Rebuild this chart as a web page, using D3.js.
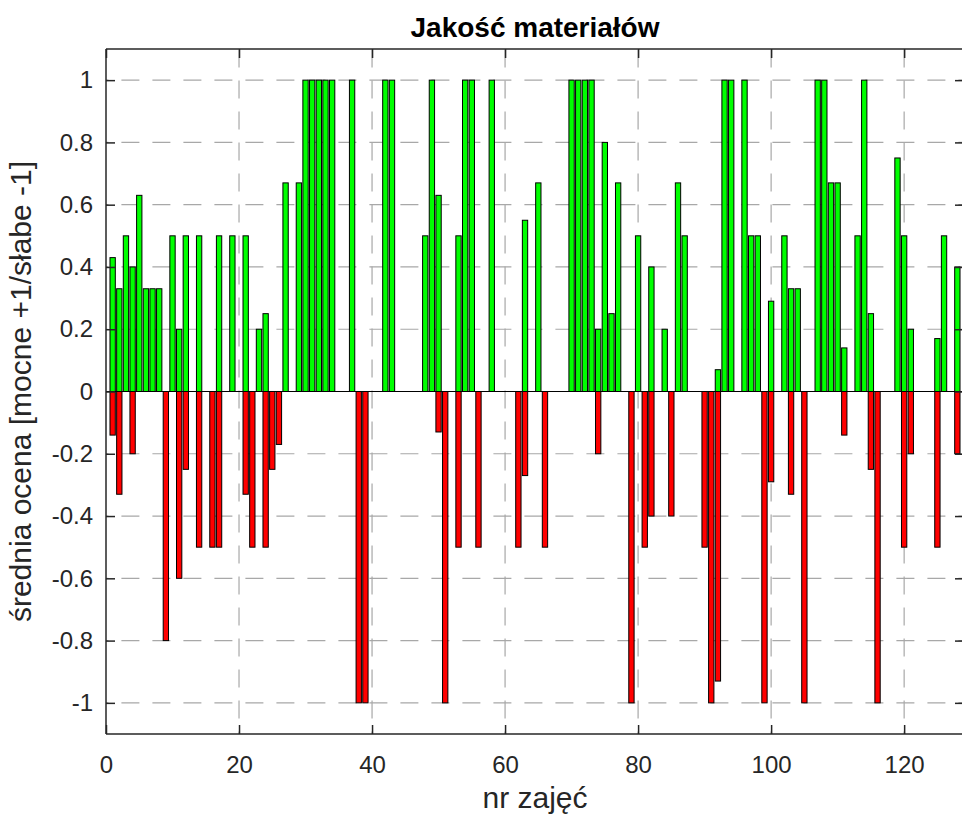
<!DOCTYPE html>
<html><head><meta charset="utf-8">
<script src="https://cdn.jsdelivr.net/npm/d3@7"></script>
<style>body{margin:0;background:#fff}svg{display:block}</style>
</head><body>
<svg id="c" width="962" height="814"></svg>
<script>
// --- data ---
const lessons = d3.range(1, 129); // nr zajęć 1..128
const positive = [
 0.43,0.33,0.5,0.4,0.63,0.33,0.33,0.33,0,0.5,
 0.2,0.5,0,0.5,0,0,0.5,0,0.5,0,
 0.5,0,0.2,0.25,0,0,0.67,0,0.67,1,
 1,1,1,1,0,0,1,0,0,0,
 0,1,1,0,0,0,0,0.5,1,0.63,
 0,0,0.5,1,1,0,0,1,0,0,
 0,0,0.55,0,0.67,0,0,0,0,1,
 1,1,1,0.2,0.8,0.25,0.67,0,0,0.5,
 0,0.4,0,0.2,0,0.67,0.5,0,0,0,
 0,0.07,1,1,0,1,0.5,0.5,0,0.29,
 0,0.5,0.33,0.33,0,0,1,1,0.67,0.67,
 0.14,0,0.5,1,0.25,0,0,0,0.75,0.5,
 0.2,0,0,0,0.17,0.5,0,0.4];
const negative = [
 -0.14,-0.33,0,-0.2,0,0,0,0,-0.8,0,
 -0.6,-0.25,0,-0.5,0,-0.5,-0.5,0,0,0,
 -0.33,-0.5,0,-0.5,-0.25,-0.17,0,0,0,0,
 0,0,0,0,0,0,0,-1,-1,0,
 0,0,0,0,0,0,0,0,0,-0.13,
 -1,0,-0.5,0,0,-0.5,0,0,0,0,
 0,-0.5,-0.27,0,0,-0.5,0,0,0,0,
 0,0,0,-0.2,0,0,0,0,-1,0,
 -0.5,-0.4,0,0,-0.4,0,0,0,0,-0.5,
 -1,-0.93,0,0,0,0,0,0,-1,-0.29,
 0,0,-0.33,0,-1,0,0,0,0,0,
 -0.14,0,0,0,-0.25,-1,0,0,0,-0.5,
 -0.2,0,0,0,-0.5,0,0,-0.2];
const xTicks = [0,20,40,60,80,100,120];
const yTicks = [-1,-0.8,-0.6,-0.4,-0.2,0,0.2,0.4,0.6,0.8,1];
const yTickLabels = ["-1","-0.8","-0.6","-0.4","-0.2","0","0.2","0.4","0.6","0.8","1"];
const titleText = "Jakość materiałów";
const xLabel = "nr zajęć";
const yLabel = "średnia ocena [mocne +1/słabe -1]";

// --- layout ---
const L = 106, T = 49, R = 964, B = 734;
const svg = d3.select("#c");
const x = d3.scaleLinear().domain([0, 129]).range([L, R]);
const y = d3.scaleLinear().domain([-1.1, 1.1]).range([B, T]);
const font = "'Liberation Sans', Arial, Helvetica, sans-serif";
const axisCol = "#262626";

// grid
const grid = svg.append("g").attr("stroke", "#a8a8a8").attr("stroke-width", 1.2)
  .attr("stroke-dasharray", "18,13").attr("fill", "none");
yTicks.forEach(t => grid.append("line")
  .attr("x1", L).attr("x2", R).attr("y1", y(t)).attr("y2", y(t))
  .attr("stroke-dashoffset", 15.6));
xTicks.filter(t => t > 0).forEach(t => grid.append("line")
  .attr("x1", x(t)).attr("x2", x(t)).attr("y1", B).attr("y2", T)
  .attr("stroke-dashoffset", 15.6));

// bars
const bw = 0.8;
const data = lessons.map((d, i) => ({ n: d, p: positive[i], m: negative[i] }));
svg.append("g").selectAll("rect").data(data.filter(d => d.p !== 0)).join("rect")
  .attr("x", d => x(d.n - bw / 2)).attr("width", x(bw) - x(0))
  .attr("y", d => y(d.p)).attr("height", d => y(0) - y(d.p))
  .attr("fill", "#00ff00").attr("stroke", "#000").attr("stroke-width", 1);
svg.append("g").selectAll("rect").data(data.filter(d => d.m !== 0)).join("rect")
  .attr("x", d => x(d.n - bw / 2)).attr("width", x(bw) - x(0))
  .attr("y", y(0)).attr("height", d => y(d.m) - y(0))
  .attr("fill", "#ff0000").attr("stroke", "#000").attr("stroke-width", 1);

// baseline
svg.append("line").attr("x1", L).attr("x2", R).attr("y1", y(0)).attr("y2", y(0))
  .attr("stroke", "#000").attr("stroke-width", 1);

// axes box
const ax = svg.append("g");
const xAxisB = d3.axisBottom(x).tickValues(xTicks).tickSize(-9).tickPadding(22).tickFormat(d3.format("d"));
const xAxisT = d3.axisTop(x).tickValues(xTicks).tickSize(-9).tickFormat("");
const yAxisL = d3.axisLeft(y).tickValues(yTicks).tickSize(-9).tickPadding(13)
  .tickFormat((d, i) => yTickLabels[i]);
const yAxisR = d3.axisRight(y).tickValues(yTicks).tickSize(-9).tickFormat("");
function style(g) {
  g.selectAll("path").attr("stroke", axisCol).attr("stroke-width", 1.5);
  g.selectAll("line").attr("stroke", axisCol).attr("stroke-width", 1.5);
  g.selectAll("text").attr("fill", axisCol).style("font-family", font).style("font-size", "24px");
}
ax.append("g").attr("transform", `translate(0,${B})`).call(xAxisB).call(style)
  .call(g => g.select(".domain").attr("d", `M${L},0H${R}`));
ax.append("g").attr("transform", `translate(0,${T})`).call(xAxisT).call(style)
  .call(g => g.select(".domain").attr("d", `M${L},0H${R}`));
ax.append("g").attr("transform", `translate(${L},0)`).call(yAxisL).call(style)
  .call(g => g.select(".domain").attr("d", `M0,${T}V${B}`));
ax.append("g").attr("transform", `translate(${R},0)`).call(yAxisR).call(style)
  .call(g => g.select(".domain").attr("d", `M0,${T}V${B}`));

// labels
svg.append("text").attr("x", (L + R) / 2).attr("y", 37).attr("text-anchor", "middle")
  .style("font-family", font).style("font-size", "28px").style("font-weight", "bold")
  .attr("fill", "#000").text(titleText);
svg.append("text").attr("x", (L + R) / 2).attr("y", 808).attr("text-anchor", "middle")
  .style("font-family", font).style("font-size", "30px").attr("fill", axisCol).text(xLabel);
svg.append("text").attr("transform", `translate(31,${(T + B) / 2}) rotate(-90)`)
  .attr("text-anchor", "middle")
  .style("font-family", font).style("font-size", "30px").attr("fill", axisCol).text(yLabel);
</script>
</body></html>
